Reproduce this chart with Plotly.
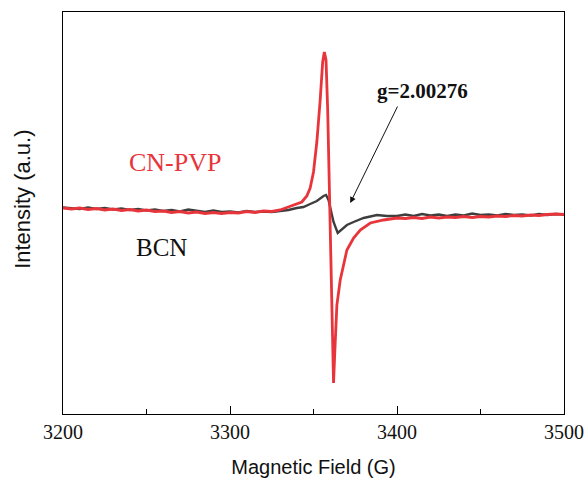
import plotly.graph_objects as go

# ---- data ----
field_base_left = [3200, 3205, 3210, 3215, 3220, 3225, 3230, 3235, 3240, 3245, 3250,
                   3255, 3260, 3265, 3270, 3275, 3280, 3285, 3290, 3295, 3300, 3305,
                   3310, 3315, 3320, 3325]

cnpvp_left = [2, 1, 2, 0.5, 1.5, 0, 1, -0.5, 0.5, -1, 0, -1.5, -1, -2.5, -1.5, -3,
              -2, -3.5, -2.5, -3.5, -2.5, -3, -1.5, -2.5, -1, -1.5]
bcn_left = [2.5, 2, 1, 2.5, 1, 2, 0.5, 1.5, 0, 1, -0.5, 0.5, -1, 0, -1.5, 0.5,
            -1, -2, -0.5, -2, -1.5, -2.5, -1, -2, -1.5, -2]

cnpvp_mid_field = [3330, 3335, 3340, 3343, 3346, 3348, 3350, 3352, 3354, 3355.5,
                   3356.5, 3357.5, 3358.5, 3359.5, 3360.5, 3361.5, 3362, 3362.8,
                   3364, 3366, 3368, 3370, 3374, 3378, 3384, 3392, 3400]
cnpvp_mid = [0, 3, 6, 8, 14, 22, 38, 68, 110, 148, 158, 150, 100, 30, -50, -140,
             -173, -140, -95, -70, -55, -40, -28, -20, -13, -10, -8]

bcn_mid_field = [3330, 3335, 3340, 3344, 3348, 3352, 3356, 3357.5, 3359, 3360.5,
                 3362, 3364.5, 3367, 3370, 3374, 3380, 3388, 3394, 3400]
bcn_mid = [-1, 0, 2, 3, 6, 9, 14, 15, 10, 0, -12, -23, -19, -15, -12, -8, -5, -6, -6]

field_base_right = [3405, 3410, 3415, 3420, 3425, 3430, 3435, 3440, 3445, 3450,
                    3455, 3460, 3465, 3470, 3475, 3480, 3485, 3490, 3495, 3500]
cnpvp_right = [-8.5, -7.5, -8.5, -7, -8, -7, -7.5, -6.5, -7.5, -6.5, -7, -6, -6.5,
               -5.5, -6, -5, -5.5, -4.5, -4, -4.5]
bcn_right = [-4.5, -6, -4, -5.5, -4.5, -6, -4.5, -5.5, -3.5, -5, -4.5, -5.5, -4,
             -5, -4.5, -5.5, -4, -5, -4, -4.5]

x_ticks = [3200, 3300, 3400, 3500]
x_tick_labels = ["3200", "3300", "3400", "3500"]

# ---- assemble series ----
cnpvp_x = field_base_left + cnpvp_mid_field + field_base_right
cnpvp_y = cnpvp_left + cnpvp_mid + cnpvp_right
bcn_x = field_base_left + bcn_mid_field + field_base_right
bcn_y = bcn_left + bcn_mid + bcn_right

RED = "#E8353B"
DARK = "#3E3E3E"
SERIF = "Liberation Serif, Times New Roman, serif"
SANS = "Liberation Sans, Arial, sans-serif"

fig = go.Figure()
fig.add_trace(go.Scatter(x=bcn_x, y=bcn_y, mode="lines", name="BCN",
                         line=dict(color=DARK, width=2.4)))
fig.add_trace(go.Scatter(x=cnpvp_x, y=cnpvp_y, mode="lines", name="CN-PVP",
                         line=dict(color=RED, width=2.8)))

fig.add_annotation(x=3267, y=48, text="CN-PVP", showarrow=False,
                   font=dict(family=SERIF, size=26, color=RED))
fig.add_annotation(x=3259, y=-37, text="BCN", showarrow=False,
                   font=dict(family=SERIF, size=25, color="#111111"))
fig.add_annotation(x=3415, y=119, text="<b>g=2.00276</b>", showarrow=False,
                   font=dict(family=SERIF, size=21, color="#111111"))
fig.add_annotation(x=3372, y=7, ax=48, ay=-98, axref="pixel", ayref="pixel",
                   text="", showarrow=True, arrowhead=2, arrowsize=1.2,
                   arrowwidth=1, arrowcolor="#111111")
# y-axis title placed like the reference (slightly above the plot centre)
fig.add_annotation(xref="paper", yref="paper", x=-0.08, y=0.535,
                   xanchor="center", yanchor="middle", textangle=-90,
                   text="Intensity (a.u.)", showarrow=False,
                   font=dict(family=SANS, size=22, color="#111111"))

fig.update_layout(
    width=586, height=478,
    margin=dict(l=63, r=22, t=12, b=64),
    paper_bgcolor="white", plot_bgcolor="white",
    showlegend=False,
    xaxis=dict(
        range=[3200, 3500], tickvals=x_ticks, ticktext=x_tick_labels,
        automargin=False,
        ticks="inside", ticklen=8, tickwidth=1, tickcolor="black",
        minor=dict(dtick=50, ticks="inside", ticklen=5, tickcolor="black", tick0=3200),
        showline=True, linecolor="black", linewidth=1.2, mirror=True,
        showgrid=False, zeroline=False,
        tickfont=dict(family=SERIF, size=20, color="#111111"),
        title=dict(text="Magnetic Field (G)", standoff=17,
                   font=dict(family=SANS, size=20, color="#111111")),
    ),
    yaxis=dict(
        range=[-204, 198], showticklabels=False, ticks="",
        automargin=False,
        showline=True, linecolor="black", linewidth=1.2, mirror=True,
        showgrid=False, zeroline=False,
    ),
)

fig.write_html("out.html", config={"displayModeBar": False},
               post_script="document.body.style.margin='0';document.body.style.overflow='hidden';")
